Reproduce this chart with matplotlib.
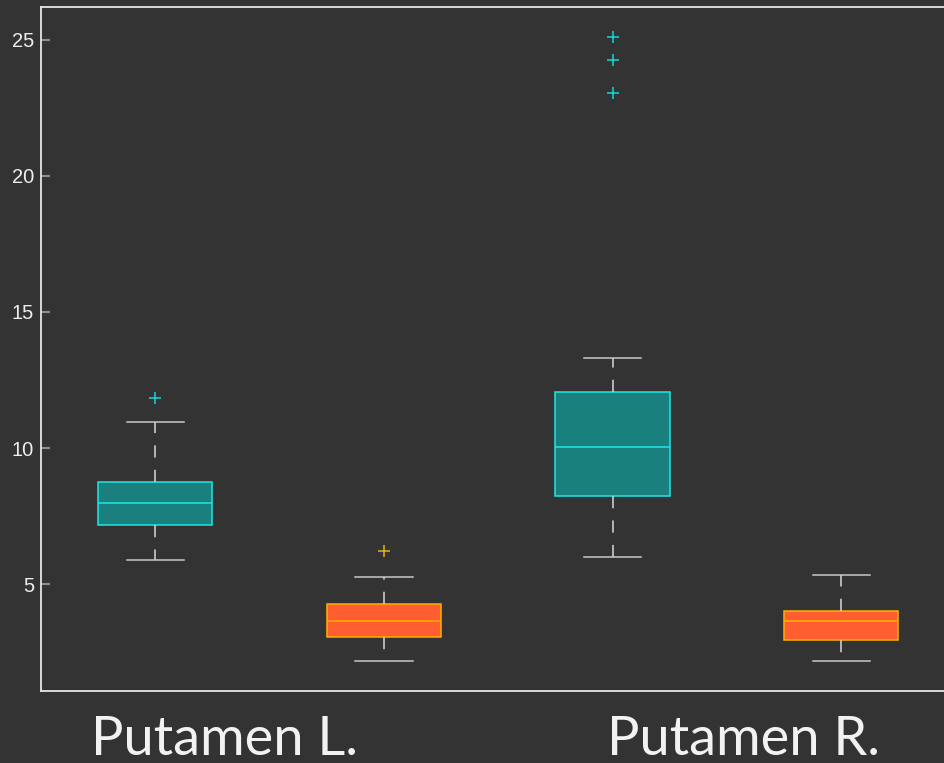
import matplotlib
matplotlib.use("Agg")
import matplotlib.pyplot as plt

# Summary statistics for each box (left to right)
groups = ["Putamen L. A", "Putamen L. B", "Putamen R. A", "Putamen R. B"]
q1 = [7.17, 3.06, 8.25, 2.95]
median = [7.97, 3.65, 10.03, 3.64]
q3 = [8.75, 4.28, 12.07, 4.02]
whisker_low = [5.88, 2.18, 6.00, 2.19]
whisker_high = [10.96, 5.27, 13.30, 5.33]
outliers = [[11.84], [6.20], [23.04, 24.28, 25.09], []]

region_labels = ["Putamen L.", "Putamen R."]
yticks = [5, 10, 15, 20, 25]

bg = "#333333"
face_colors = ["#1a807e", "#ff5e31", "#1a807e", "#ff5e31"]
edge_colors = ["#1fe6e6", "#ffb000", "#1fe6e6", "#ffb000"]
flier_colors = ["#11dada", "#e0b21a", "#11dada", "#e0b21a"]

fig = plt.figure(figsize=(9.44, 7.63), dpi=100, facecolor=bg)
ax = fig.add_axes([41 / 944, 72 / 763, (955.5 - 41) / 944, (691 - 7) / 763])
ax.set_facecolor(bg)

stats = []
for i in range(len(groups)):
    stats.append(dict(label=groups[i], q1=q1[i], med=median[i], q3=q3[i],
                      whislo=whisker_low[i], whishi=whisker_high[i],
                      fliers=outliers[i]))

bp = ax.bxp(stats, positions=range(1, len(groups) + 1), widths=0.5,
            patch_artist=True, showfliers=True)

for i in range(len(groups)):
    box = bp["boxes"][i]
    box.set_facecolor(face_colors[i])
    box.set_edgecolor(edge_colors[i])
    box.set_linewidth(1.1)
    bp["medians"][i].set_color(edge_colors[i])
    bp["medians"][i].set_linewidth(1.1)
    for w in bp["whiskers"][2 * i:2 * i + 2]:
        w.set_color("#d8d8d8")
        w.set_linewidth(1.1)
        w.set_linestyle((0, (8.0, 8.0)))
    for c in bp["caps"][2 * i:2 * i + 2]:
        c.set_color("#c8c8c8")
        c.set_linewidth(1.1)
    fl = bp["fliers"][i]
    fl.set_marker("+")
    fl.set_markersize(9)
    fl.set_markeredgewidth(1.1)
    fl.set_markeredgecolor(flier_colors[i])

ax.set_xlim(0.5, 4.5)
ax.set_ylim(1.07, 26.21)
ax.set_xticks([])
ax.set_yticks(yticks)
ax.set_yticklabels([str(t) for t in yticks], family="Liberation Sans",
                   fontsize=14.5, color="#eeeeee")
ax.tick_params(axis="y", direction="in", length=6.5, width=1.1,
               color="#aaaaaa", pad=5)
for side in ["left", "bottom", "top", "right"]:
    ax.spines[side].set_color("#e6e6e6")
    ax.spines[side].set_linewidth(1.3)

label_x = [91, 607]
for lx, text in zip(label_x, region_labels):
    fig.text(lx / 944, (763 - 755) / 763, text, family="Lato", fontsize=39,
             color="#f2f2f2", ha="left", va="baseline")

fig.savefig("out.png", dpi=100, facecolor=bg)
